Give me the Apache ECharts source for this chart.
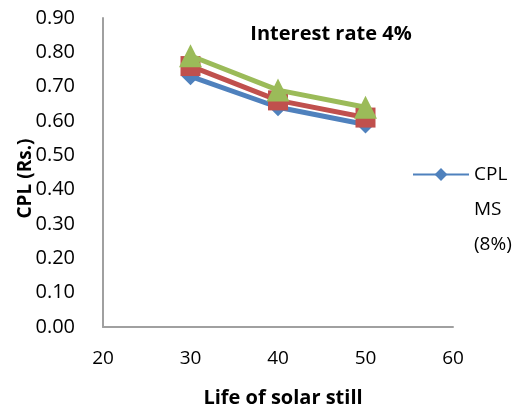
<!DOCTYPE html>
<html>
<head>
<meta charset="utf-8">
<script src="https://cdn.jsdelivr.net/npm/echarts@6/dist/echarts.min.js"></script>
<style>
  html, body { margin: 0; padding: 0; background: #ffffff; }
  #chart { width: 522px; height: 415px; }
</style>
</head>
<body>
<div id="chart"></div>
<script>
// Life of the solar still (years) on the x axis
const lifeYears = [30, 40, 50];
// Cost per litre (Rs.) for each series
const cplMs8 = [0.73, 0.64, 0.59];
const cplSeries2 = [0.76, 0.66, 0.61];
const cplSeries3 = [0.79, 0.69, 0.64];
const xTicks = [20, 30, 40, 50, 60];
const yTicks = [0, 0.1, 0.2, 0.3, 0.4, 0.5, 0.6, 0.7, 0.8, 0.9];

const FONT = 'Open Sans';
const pairs = vals => lifeYears.map((x, i) => [x, vals[i]]);

const chart = echarts.init(document.getElementById('chart'), null, { renderer: 'canvas' });

chart.setOption({
  animation: false,
  backgroundColor: '#ffffff',
  textStyle: { fontFamily: FONT },
  title: {
    text: 'Interest rate 4%',
    left: 326,
    top: 19,
    textAlign: 'center',
    textStyle: { fontFamily: FONT, fontWeight: 'bold', fontSize: 20, color: '#000' }
  },
  grid: {
    left: 103, right: 69, top: 18, bottom: 88,
    containLabel: false,
    outerBoundsMode: 'none'
  },
  legend: {
    data: ['CPL MS (8%)'],
    left: 412,
    top: 87,
    padding: 0,
    itemWidth: 56,
    itemHeight: 16,
    // two blank lines on top keep the marker level with the first line
    formatter: () => '\n\nCPL\nMS\n(8%)',
    textStyle: {
      fontFamily: FONT, fontSize: 19, color: '#000',
      lineHeight: 35
    }
  },
  xAxis: {
    type: 'value',
    min: xTicks[0],
    max: xTicks[xTicks.length - 1],
    interval: 10,
    name: 'Life of solar still',
    nameLocation: 'middle',
    nameGap: 61,
    nameMoveOverlap: false,
    nameTextStyle: { fontFamily: FONT, fontWeight: 'bold', fontSize: 20, color: '#000', padding: [0, 0, 0, 10] },
    axisLine: { show: true, lineStyle: { color: '#a0a0a0', width: 2 } },
    axisTick: { show: false },
    splitLine: { show: false },
    axisLabel: { fontFamily: FONT, fontSize: 19, color: '#000', margin: 22 }
  },
  yAxis: {
    type: 'value',
    min: yTicks[0],
    max: yTicks[yTicks.length - 1],
    interval: 0.1,
    name: 'CPL (Rs.)',
    nameLocation: 'middle',
    nameGap: 68,
    nameRotate: 90,
    nameMoveOverlap: false,
    nameTextStyle: { fontFamily: FONT, fontWeight: 'bold', fontSize: 19, color: '#000', padding: [0, 12, 0, 0] },
    axisLine: { show: true, lineStyle: { color: '#a0a0a0', width: 2 } },
    axisTick: { show: false },
    splitLine: { show: false },
    axisLabel: {
      fontFamily: FONT, fontSize: 20, color: '#000', margin: 28,
      formatter: v => v.toFixed(2)
    }
  },
  series: [
    {
      name: 'CPL MS (8%)',
      type: 'line',
      data: pairs(cplMs8),
      symbol: 'diamond',
      symbolSize: 18,
      z: 2,
      lineStyle: { color: '#4f81bd', width: 5 },
      itemStyle: { color: '#4f81bd' }
    },
    {
      name: 'CPL MS (10%)',
      type: 'line',
      data: pairs(cplSeries2),
      symbol: 'rect',
      symbolSize: 20,
      z: 3,
      lineStyle: { color: '#c0504d', width: 5 },
      itemStyle: { color: '#c0504d' }
    },
    {
      name: 'CPL MS (12%)',
      type: 'line',
      data: pairs(cplSeries3),
      symbol: 'triangle',
      symbolSize: 23,
      z: 4,
      lineStyle: { color: '#9bbb59', width: 5 },
      itemStyle: { color: '#9bbb59' }
    }
  ]
});
</script>
</body>
</html>
